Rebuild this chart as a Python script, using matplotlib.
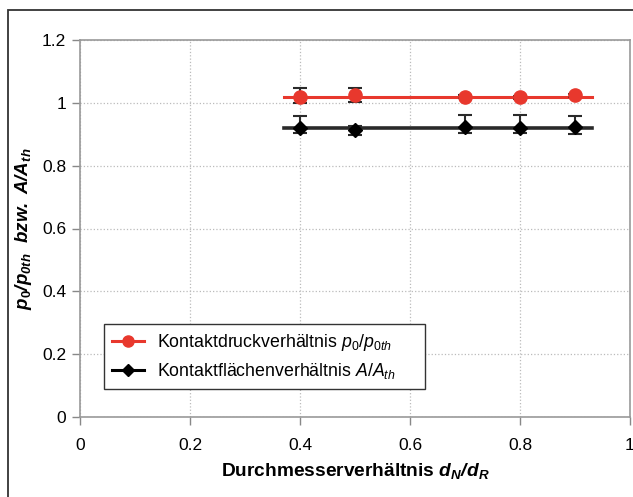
import matplotlib.pyplot as plt
from matplotlib.patches import Rectangle

plt.rcParams['font.family'] = 'Liberation Sans'
plt.rcParams['mathtext.fontset'] = 'custom'
plt.rcParams['mathtext.rm'] = 'Liberation Sans'
plt.rcParams['mathtext.it'] = 'Liberation Sans:italic'
plt.rcParams['mathtext.bf'] = 'Liberation Sans:bold'
plt.rcParams['mathtext.bfit'] = 'Liberation Sans:italic:bold'

# data
d_ratio = [0.4, 0.5, 0.7, 0.8, 0.9]
p_ratio = [1.020, 1.024, 1.019, 1.018, 1.024]
p_err_lo = [0.02, 0.02, 0.005, 0.005, 0.005]
p_err_hi = [0.028, 0.022, 0.005, 0.005, 0.005]
a_ratio = [0.920, 0.913, 0.924, 0.920, 0.923]
a_err_lo = [0.017, 0.016, 0.021, 0.016, 0.021]
a_err_hi = [0.039, 0.012, 0.038, 0.040, 0.035]
fit_x = [0.37, 0.93]
p_fit = 1.02
a_fit = 0.92

red = '#e8382d'
dark = '#2a2a2a'

fig = plt.figure(figsize=(6.33, 4.97), dpi=100)
ax = fig.add_axes([80 / 633, 80 / 497, 550 / 633, 377 / 497])

# outer frame
fig.patches.append(Rectangle((8 / 633, -0.1), 1.1, 1 - 10 / 497 + 0.1,
                             transform=fig.transFigure, fill=False,
                             edgecolor='#333333', linewidth=1.3))

ax.plot(fit_x, [p_fit, p_fit], color=red, lw=2.2, zorder=2)
ax.plot(fit_x, [a_fit, a_fit], color=dark, lw=2.6, zorder=2)

ax.errorbar(d_ratio, p_ratio, yerr=[p_err_lo, p_err_hi], fmt='none',
            ecolor=dark, elinewidth=1.5, capsize=5, capthick=1.5, zorder=3)
ax.errorbar(d_ratio, a_ratio, yerr=[a_err_lo, a_err_hi], fmt='none',
            ecolor=dark, elinewidth=1.5, capsize=5, capthick=1.5, zorder=3)
ax.plot(d_ratio, p_ratio, 'o', color=red, ms=9.5, zorder=4)
ax.plot(d_ratio, a_ratio, 'D', color='black', ms=7.5, zorder=4)

# legend handles
ax.plot([], [], '-o', color=red, lw=2.2, ms=8,
        label=r'Kontaktdruckverhältnis $p_0/p_{0th}$')
ax.plot([], [], '-D', color='black', lw=2.2, ms=6,
        label=r'Kontaktflächenverhältnis $A/A_{th}$')
leg = ax.legend(loc='lower left', bbox_to_anchor=(0.044, 0.074, 0.584, 0.1),
                mode='expand', fontsize=12.8,
                fancybox=False, framealpha=1, edgecolor='#333333',
                borderaxespad=0, handlelength=1.8, handletextpad=0.7,
                borderpad=0.45, labelspacing=0.45)
leg.get_frame().set_linewidth(1.0)

ax.set_xlim(0, 1)
ax.set_ylim(0, 1.2)
ax.set_xticks([0, 0.2, 0.4, 0.6, 0.8, 1.0])
ax.set_xticklabels(['0', '0.2', '0.4', '0.6', '0.8', '1'])
ax.set_yticks([0, 0.2, 0.4, 0.6, 0.8, 1.0, 1.2])
ax.set_yticklabels(['0', '0.2', '0.4', '0.6', '0.8', '1', '1.2'])
ax.tick_params(labelsize=12.5, color='#888888', length=6, width=1)
ax.tick_params(axis='x', pad=9)
ax.tick_params(axis='y', pad=4)
ax.grid(True, linestyle=':', color='#bbbbbb', linewidth=0.9)
for s in ax.spines.values():
    s.set_color('#999999')
    s.set_linewidth(1.2)

ax.set_xlabel(r'Durchmesserverhältnis $\mathbfit{d}_{\mathbfit{N}}\mathbfit{/d}_{\mathbfit{R}}$',
              fontsize=13.8, fontweight='bold', labelpad=6)
ax.set_ylabel(r'$\mathbfit{p}_{\mathbf{0}}\mathbfit{/p}_{\mathbfit{0th}}$  $\mathbfit{bzw.\ A/A}_{\mathbfit{th}}$',
              fontsize=13.5, labelpad=6)

fig.savefig('out.png', dpi=100)
